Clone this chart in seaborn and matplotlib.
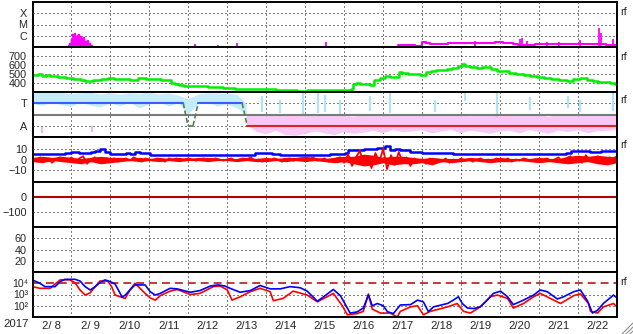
import numpy as np
import pandas as pd
import matplotlib
matplotlib.use('Agg')
import matplotlib.pyplot as plt
import seaborn as sns
from matplotlib.lines import Line2D

sns.set_style('white')
plt.rcParams['font.family'] = ['Liberation Sans', 'DejaVu Sans']

# ---------------- data ----------------
year_label = '2017'
day_labels = ['2/ 8', '2/ 9', '2/10', '2/11', '2/12', '2/13', '2/14', '2/15',
              '2/16', '2/17', '2/18', '2/19', '2/20', '2/21', '2/22']

# X-ray flux (log10 W/m2), time in days from 2/8 00UT
xray_burst_t = [0.91, 0.94, 0.97, 0.99, 1.01, 1.03, 1.05, 1.07, 1.09, 1.11, 1.13, 1.15, 1.17,
                1.19, 1.21, 1.23, 1.25, 1.27, 1.29, 1.31, 1.33, 1.35, 1.38, 1.41, 1.44, 1.47,
                1.50, 1.53]
xray_burst_v = [-6.80, -6.60, -6.75, -6.30, -6.55, -5.85, -6.45, -5.78, -6.40, -6.05, -6.55, -5.95,
                -6.50, -5.80, -6.35, -6.00, -6.55, -6.20, -6.50, -6.10, -6.60, -6.45, -6.65, -6.40,
                -6.75, -6.60, -6.85, -6.90]
xray_t = [9.39, 9.70, 9.95, 10.05, 10.16, 10.26, 10.47, 10.60, 10.72, 10.98, 11.24, 11.49, 11.75,
          12.00, 12.14, 12.27, 12.40, 12.52, 12.78, 13.03, 13.29, 13.55, 13.81, 14.06, 14.32,
          14.58, 14.84, 15.00]
xray_v = [-6.82, -6.86, -6.88, -6.56, -6.60, -6.70, -6.73, -6.70, -6.66, -6.64, -6.66, -6.64, -6.60,
          -6.55, -6.62, -6.68, -6.76, -6.80, -6.78, -6.74, -6.72, -6.70, -6.73, -6.76, -6.74,
          -6.70, -6.78, -6.80]
xray_spike_t = [3.90, 4.17, 4.76, 4.94, 5.25, 7.54, 7.87, 11.35, 12.50, 12.57, 12.70, 13.21,
                13.50, 14.06, 14.55, 14.60, 14.91]
xray_spike_v = [-6.91, -6.73, -6.82, -6.91, -6.64, -6.56, -6.91, -6.47, -6.32, -6.17, -6.44, -6.56,
                -6.56, -6.38, -5.31, -5.75, -6.29]

# Solar wind speed (km/s)
speed_t = [0.00, 0.10, 0.20, 0.30, 0.40, 0.50, 0.60, 0.70, 0.80, 0.90, 1.00, 1.10, 1.20, 1.30,
           1.40, 1.50, 1.60, 1.70, 1.80, 1.90, 2.00, 2.20, 2.40, 2.60, 2.80, 3.00, 3.20, 3.40,
           3.50, 3.60, 3.70, 3.80, 4.00, 4.20, 4.40, 4.60, 4.80, 5.00, 5.10, 5.30, 5.60, 5.90,
           6.10, 6.40, 6.70, 6.90, 7.20, 7.50, 7.80, 8.15, 8.22, 8.25, 8.35, 8.45, 8.60, 8.70,
           8.85, 9.00, 9.11, 9.25, 9.35, 9.44, 9.55, 9.70, 9.85, 10.03, 10.15, 10.29, 10.40,
           10.55, 10.70, 10.85, 10.98, 11.06, 11.15, 11.30, 11.49, 11.60, 11.70, 11.85, 12.00,
           12.15, 12.30, 12.52, 12.70, 12.85, 13.03, 13.20, 13.40, 13.60, 13.81, 13.95, 14.14,
           14.30, 14.45, 14.58, 14.75, 14.90, 15.00]
speed_v = [492, 488, 495, 482, 486, 475, 478, 468, 472, 458, 450, 446, 440, 432,
           418, 422, 428, 436, 442, 447, 452, 446, 443, 438, 450, 446, 440, 438,
           432, 405, 385, 374, 370, 366, 362, 358, 356, 348, 340, 338, 335, 333,
           330, 326, 320, 316, 317, 320, 318, 321, 332, 392, 398, 390, 384, 382,
           428, 452, 476, 468, 462, 522, 515, 505, 498, 488, 520, 535, 540,
           548, 556, 572, 592, 610, 592, 578, 566, 575, 582, 560, 538,
           528, 515, 502, 488, 475, 464, 452, 444, 435, 425, 440, 450,
           436, 424, 416, 408, 398, 390]

# IMF sector (T = toward, A = away)
sector_t = [0.0, 3.87, 3.99, 4.12, 4.25, 5.38, 5.51, 15.0]
sector_pol = ['T', 'T', 'A', 'A', 'T', 'T', 'A', 'A']
sector_kind = ['T', 'X', 'X', 'X', 'T', 'X', 'A']

# IMF longitude angle envelope (deg)
phi_t = [0.00, 0.25, 0.50, 0.75, 1.00, 1.25, 1.50, 1.75, 2.00, 2.25, 2.50, 2.75, 3.00, 3.25,
         3.50, 3.75, 4.00, 4.25, 4.50, 4.75, 5.00, 5.25, 5.50, 5.75, 6.00, 6.25, 6.50, 6.75,
         7.00, 7.25, 7.50, 7.75, 8.00, 8.25, 8.50, 8.75, 9.00, 9.25, 9.50, 9.75, 10.00, 10.25,
         10.50, 10.75, 11.00, 11.25, 11.50, 11.75, 12.00, 12.25, 12.50, 12.75, 13.00, 13.25,
         13.50, 13.75, 14.00, 14.25, 14.50, 14.75, 15.00]
phi_lo = [265, 250, 275, 255, 240, 280, 250, 235, 270, 245, 275, 230, 260, 280,
          245, 270, 120, 260, 280, 245, 260, 230, 100, 40, 20, 50, 15, 10,
          25, 45, 30, 15, 40, 25, 35, 50, 30, 55, 40, 45, 55, 30,
          45, 55, 30, 50, 40, 25, 45, 50, 30, 55, 40, 25,
          50, 40, 55, 30, 45, 50, 55]
phi_hi = [358, 350, 356, 352, 345, 350, 354, 340, 352, 338, 350, 345, 355, 340,
          348, 330, 300, 340, 350, 348, 345, 340, 260, 175, 170, 182, 168, 176,
          178, 165, 175, 180, 168, 162, 178, 172, 168, 184, 172, 178, 182, 168,
          178, 172, 180, 166, 175, 178, 170, 174, 180, 168, 176, 162,
          178, 172, 168, 180, 174, 168, 172]
streak_t = [0.24, 1.53, 5.90, 6.36, 6.95, 7.33, 7.51, 7.90, 8.67, 9.18, 10.34, 11.11, 11.93,
            12.78, 13.73, 14.06, 14.91]
streak_lo = [30, 40, 200, 190, 180, 190, 200, 170, 210, 190, 200, 290, 150, 220, 230, 200, 210]
streak_hi = [80, 90, 330, 300, 350, 355, 340, 300, 330, 355, 300, 355, 350, 320, 330, 300, 355]

# IMF Bt (blue) and Bz (red), nT
bt_t = [0, 0.3, 0.6, 0.71, 0.83, 1.0, 1.2, 1.35, 1.5, 1.61, 1.73, 1.86, 1.99, 2.2, 2.4, 2.5,
        2.63, 2.75, 2.89, 3.02, 3.3, 3.6, 4.0, 4.3, 4.6, 5.0, 5.3, 5.59, 5.71, 5.85, 5.97, 6.15,
        6.36, 6.7, 7.0, 7.38, 7.64, 7.85, 8.02, 8.10, 8.3, 8.5, 8.67, 8.85, 9.05, 9.18, 9.3,
        9.44, 9.7, 10.0, 10.47, 10.8, 11.2, 11.49, 11.9, 12.3, 12.8, 13.2, 13.55, 13.7, 13.81,
        14.0, 14.3, 14.58, 14.8, 15.0]
bt_v = [5, 5.2, 4.8, 5.5, 6.5, 6.8, 6.5, 6, 6.8, 7.5, 9.5, 7, 5.5, 5.2, 5.8, 5.6,
        7, 6.5, 6, 4.5, 4.2, 4, 4.2, 4, 4.3, 4, 4.2, 4.5, 6, 6.5, 6, 5,
        4, 4.2, 4, 4.5, 5.5, 5, 6, 8.7, 9, 9.5, 10, 11, 13, 9, 9.5,
        8.7, 7, 6.5, 6, 5.5, 5.2, 5, 5.2, 5, 5.3, 5, 5.5, 6.5, 8,
        7.8, 7.2, 7.5, 7.8, 8]
bz_step = 0.1
bz_v = [1, 0, 2, -1, 1, -3, 0, 2, 1, -1,
        2, -2, 1, 3, -4, 0, 2, -1, -3, 1,
        0, 1, -2, 0, 1, -1, 2, 0, -2, 1,
        0, -1, 1, 0, -2, 1, 0, 1, -1, 0,
        1, 0, -1, 0, 1, -1, 0, 1, 0, -1,
        0, 1, -1, 0, 1, 0, 2, -1, 0, -2,
        0, -1, 1, 0, -2, 0, 1, -1, 0, 1,
        -1, 0, 2, -1, 0, 1, -2, 0, 1, 2,
        -3, 5, -6, 2, 8, -4, 3, -8, 6, -2,
        10, -9, 4, -5, 7, -3, 2, -6, 1, -2,
        0, -4, 1, -1, 0, -2, 1, -3, 0, -1,
        1, -1, 0, -2, 0, 1, -1, 0, -2, 1,
        0, -1, 1, -2, 0, -1, 1, 0, -1, 0,
        -1, 0, 1, -1, 0, 2, -3, 1, 3, -2,
        2, -3, 4, -1, -2, 3, 0, -4, 2, 1,
        3]
bz_band_step = 0.25
bz_lo = [-2, -3, -1, -2, -3, -4, -2, -4, -3, -2, -1, -2, -1, -2, -1, -2, -1, -1, -2, -1,
         -1, -2, -1, -2, -2, -1, -2, -1, -2, -1, -2, -3, -2, -4, -6, -5, -3, -5, -4, -4,
         -3, -5, -2, -3, -2, -1, -2, -3, -2, -2, -1, -2, -3, -2, -3, -4, -3, -2, -4, -5, -3]
bz_hi = [2, 3, 2, 3, 2, 1, 2, 3, 2, 2, 1, 2, 1, 2, 1, 2, 1, 2, 2, 1,
         1, 1, 2, 1, 2, 1, 2, 2, 3, 2, 1, 2, 3, 3, 5, 4, 2, 3, 3, 2,
         1, 2, 1, 1, 1, 2, 1, 1, 2, 1, 1, 1, 2, 1, 1, 3, 4, 3, 4, 3, 2]

# Electron flux (log10)
e1_t = [0.00, 0.19, 0.32, 0.58, 0.71, 0.83, 1.09, 1.22, 1.35, 1.48, 1.61, 1.73, 1.86, 1.99,
        2.12, 2.25, 2.30, 2.38, 2.50, 2.63, 2.89, 3.02, 3.15, 3.28, 3.53, 3.71, 4.05, 4.30,
        4.56, 4.76, 4.94, 5.07, 5.33, 5.59, 5.84, 6.10, 6.36, 6.61, 6.87, 7.05, 7.31, 7.51,
        7.72, 7.90, 8.08, 8.15, 8.33, 8.49, 8.62, 8.72, 8.85, 9.00, 9.11, 9.26, 9.44, 9.70,
        9.88, 10.03, 10.16, 10.29, 10.65, 10.80, 10.93, 11.03, 11.16, 11.32, 11.49, 11.67,
        11.83, 12.01, 12.19, 12.34, 12.60, 12.86, 13.03, 13.21, 13.47, 13.63, 13.89, 14.06,
        14.24, 14.37, 14.50, 14.65, 14.91, 15.00]
e1_v = [4.29, 4.00, 3.70, 3.70, 4.14, 4.35, 4.35, 4.20, 3.70, 3.40, 3.70, 4.05, 4.30, 4.15,
        3.93, 3.10, 2.75, 2.95, 3.40, 3.85, 3.85, 3.25, 2.95, 3.10, 3.55, 3.50, 3.20, 3.35,
        3.75, 3.85, 3.75, 3.55, 3.20, 3.35, 3.80, 3.50, 3.50, 3.70, 3.60, 3.30, 2.40, 2.90,
        3.45, 2.90, 1.80, 1.35, 1.45, 1.80, 2.95, 2.00, 2.20, 2.00, 1.47, 1.30, 2.07, 2.10,
        2.50, 2.35, 1.47, 1.90, 2.20, 2.50, 2.80, 2.20, 1.80, 1.75, 1.90, 2.50,
        3.10, 3.30, 2.80, 2.10, 2.50, 2.95, 3.40, 3.25, 2.60, 2.80, 3.25, 3.40,
        2.45, 1.35, 1.60, 2.20, 2.95, 2.70]
e2_t = [0.00, 0.19, 0.45, 0.58, 0.71, 0.96, 1.09, 1.22, 1.35, 1.48, 1.61, 1.73, 1.93, 2.03,
        2.12, 2.25, 2.38, 2.50, 2.63, 2.76, 2.89, 3.02, 3.15, 3.28, 3.53, 3.71, 4.05, 4.30,
        4.64, 4.82, 5.00, 5.12, 5.33, 5.59, 5.84, 6.10, 6.18, 6.43, 6.69, 7.05, 7.31, 7.56,
        7.72, 7.95, 8.08, 8.33, 8.49, 8.62, 8.72, 8.93, 9.18, 9.36, 9.44, 9.70, 9.88, 10.03,
        10.21, 10.65, 10.90, 11.06, 11.24, 11.49, 11.75, 11.93, 12.19, 12.34, 12.60, 12.86,
        13.03, 13.29, 13.55, 13.89, 14.06, 14.27, 14.32, 14.50, 14.65, 14.91, 15.00]
e2_v = [3.70, 3.55, 3.55, 3.93, 4.30, 4.30, 4.05, 3.40, 2.95, 3.15, 3.70, 4.20, 4.20, 3.70,
        2.95, 2.80, 2.65, 3.40, 4.00, 3.55, 3.10, 2.70, 2.50, 2.90, 3.30, 3.45, 3.00, 3.10,
        3.70, 3.75, 3.40, 2.50, 2.80, 3.25, 3.55, 3.25, 2.45, 2.65, 3.30, 2.95, 2.35, 2.80,
        3.10, 2.00, 1.20, 1.30, 1.50, 3.05, 1.70, 1.35, 1.35, 1.00, 1.50, 1.90, 2.00, 1.20,
        1.50, 1.90, 2.20, 1.50, 1.35, 1.90, 2.80, 2.95, 2.65, 1.80, 2.20, 2.80,
        3.10, 2.65, 2.20, 2.90, 3.05, 2.20, 1.50, 1.35, 1.90, 2.20, 1.90]
e_tick_labels = ['10\u2074', '10\u00b3', '10\u00b2']

# ---------------- figure ----------------
W, H = 633, 334
fig = plt.figure(figsize=(W / 100, H / 100), dpi=100)
LEFT, RIGHT, TOP, PH = 32.5, 617.0, 2.0, 45.0
FS = 7.8
dot = (0, (1, 3))

axes = []
for i in range(7):
    yb = TOP + PH * (i + 1)
    ax = fig.add_axes([LEFT / W, 1 - yb / H, (RIGHT - LEFT) / W, PH / H])
    ax.set_xlim(0, 15)
    ax.set_facecolor('white')
    for s in ax.spines.values():
        s.set_color('black')
        s.set_linewidth(1.4)
    ax.set_xticks(np.arange(1, 15))
    ax.set_xticklabels([])
    ax.tick_params(axis='both', which='both', length=0, labelsize=FS, pad=4)
    ax.set_axisbelow(True)
    axes.append(ax)

def ygrid(ax, vals):
    for v in vals:
        ax.axhline(v, color='black', lw=0.72, ls=dot, zorder=0.5)

def xgrid(ax):
    for d in range(1, 15):
        ax.axvline(d, color='black', lw=0.72, ls=dot, zorder=0.5)

# Panel 1: X-ray
ax = axes[0]
ax.set_yscale('log')
ax.set_ylim(1e-7, 1e-3)
ax.set_yticks([1e-4, 1e-5, 1e-6])
ax.set_yticklabels(['X', 'M', 'C'])
ax.yaxis.set_minor_locator(matplotlib.ticker.NullLocator())
ygrid(ax, [1e-4, 1e-5, 1e-6]); xgrid(ax)
bt_arr = np.array(xray_burst_t); bv = 10 ** np.array(xray_burst_v)
ax.fill_between(bt_arr, 1e-7, bv, step='mid', color='#ff00ff', lw=0)
sns.lineplot(x=xray_burst_t, y=list(bv), ax=ax, color='#ff00ff', lw=1.0, drawstyle='steps-mid')
sns.lineplot(x=xray_t, y=list(10 ** np.array(xray_v)), ax=ax, color='#ff00ff', lw=1.5,
             drawstyle='steps-mid')
ax.vlines(xray_spike_t, 1e-7, 10 ** np.array(xray_spike_v), color='#ff00ff', lw=1.3)

# Panel 2: speed
ax = axes[1]
ax.set_ylim(300, 800)
ax.set_yticks([400, 500, 600, 700])
ygrid(ax, [400, 500, 600, 700]); xgrid(ax)
sns.lineplot(x=speed_t, y=speed_v, ax=ax, color='#00ee00', lw=1.8, drawstyle='steps-mid')

# Panel 3: IMF sector
ax = axes[2]
ax.set_ylim(0, 360)
ax.set_yticks([270, 90])
ax.set_yticklabels(['T', 'A'])
ygrid(ax, [270, 90]); xgrid(ax)
pt = np.array(phi_t); lo = np.array(phi_lo); hi = np.array(phi_hi)
ax.fill_between(pt, np.maximum(lo, 180), hi, where=hi > 180, color='#c4ecfa', lw=0)
ax.fill_between(pt, lo, np.minimum(hi, 180), where=lo < 180, color='#f9c8f6', lw=0)
st = np.array(streak_t); sl = np.array(streak_lo); sh = np.array(streak_hi)
up = sh > 180
ax.vlines(st[up], np.maximum(sl[up], 180), sh[up], color='#b0e4f6', lw=1.6)
dn = sl < 180
ax.vlines(st[dn], sl[dn], np.minimum(sh[dn], 180), color='#f4b6f0', lw=1.6)
ax.axhline(180, color='#7a7a7a', lw=1.5)
lev = {'T': 270, 'A': 90}
sty = {'T': dict(color='#3060ff', lw=1.5, ls='-'),
       'A': dict(color='#e02020', lw=1.5, ls='-'),
       'X': dict(color='#508050', lw=1.2, ls=(0, (3, 1.5)))}
for k in range(len(sector_kind)):
    seg = pd.DataFrame({'t': sector_t[k:k + 2],
                        'v': [lev[sector_pol[k]], lev[sector_pol[k + 1]]]})
    sns.lineplot(data=seg, x='t', y='v', ax=ax, **sty[sector_kind[k]])

# Panel 4: Bt / Bz
ax = axes[3]
ax.set_ylim(-21, 21)
ax.set_yticks([10, 0, -10])
ygrid(ax, [10, -10]); xgrid(ax)
ax.axhline(0, color='#c00000', lw=1.2, zorder=1)
sns.lineplot(x=bt_t, y=bt_v, ax=ax, color='#0000ff', lw=1.8, drawstyle='steps-post')
bzb_t = np.arange(len(bz_lo)) * bz_band_step
ax.fill_between(bzb_t, bz_lo, bz_hi, color='#ff0000', lw=0, zorder=2.5)
bz_t = np.arange(len(bz_v)) * bz_step
sns.lineplot(x=bz_t, y=bz_v, ax=ax, color='#ff0000', lw=1.3)

# Panel 5: Dst
ax = axes[4]
ax.set_ylim(-200, 100)
ax.set_yticks([0, -100])
ygrid(ax, [-100]); xgrid(ax)
ax.axhline(0, color='#b00000', lw=1.5)

# Panel 6: Kp-like
ax = axes[5]
ax.set_ylim(0, 80)
ax.set_yticks([60, 40, 20])
ygrid(ax, [20, 40, 60]); xgrid(ax)

# Panel 7: electrons
ax = axes[6]
ax.set_yscale('log')
ax.set_ylim(10, 1e5)
ax.set_yticks([1e4, 1e3, 1e2])
ax.set_yticklabels(e_tick_labels)
ax.yaxis.set_minor_locator(matplotlib.ticker.NullLocator())
ax.tick_params(axis='y', pad=3, labelsize=7.6)
ygrid(ax, [1e3, 1e2]); xgrid(ax)
ax.axhline(1e4, color='#b00000', lw=1.08, ls=(0, (5.3, 3.3)))
sns.lineplot(x=e2_t, y=list(10 ** np.array(e2_v)), ax=ax, color='#ff0000', lw=1.2)
sns.lineplot(x=e1_t, y=list(10 ** np.array(e1_v)), ax=ax, color='#0000ff', lw=1.2)
ax.set_xticks(np.arange(15) + 0.5, minor=True)
ax.set_xticklabels(day_labels, minor=True)
ax.tick_params(axis='x', which='minor', labelsize=FS + 0.4, pad=3)

for a in axes:
    a.set_xlabel(''); a.set_ylabel('')
    leg = a.get_legend()
    if leg: leg.remove()

fig.text(16.5 / W, 1 - 324 / H, year_label, ha='center', va='center', fontsize=FS + 0.4)
for yy in [12, 57, 100, 145, 282]:
    fig.text(620 / W, 1 - yy / H, 'rf', ha='left', va='center', fontsize=FS)

for k in range(4):
    o = 4 * k
    fig.add_artist(Line2D([(622 + o) / W, (633) / W], [0, (11 - o) / H],
                          color='#909090', lw=0.8))

fig.savefig('out.png', dpi=100)
